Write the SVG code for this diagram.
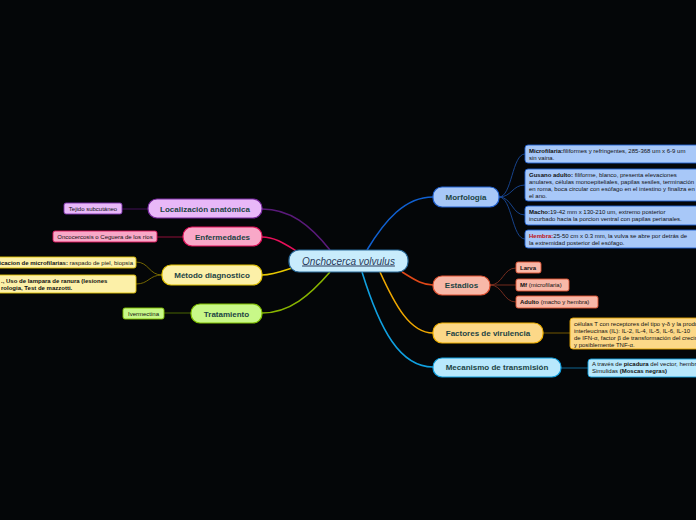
<svg xmlns="http://www.w3.org/2000/svg" width="696" height="520" viewBox="0 0 696 520">
<style>
text{font-family:"Liberation Sans",Arial,sans-serif;}
.main{font-size:8px;font-weight:bold;fill:#1c4444;text-anchor:middle;}
.sub{font-size:6px;fill:#111;}
.b{font-weight:bold;}
.c{fill:none;stroke-width:1.6;}
.cs{fill:none;stroke-width:0.9;}
</style>
<rect width="696" height="520" fill="#040608"/>
<g id="connectors">
<path class="c" stroke="#5a1a7a" d="M330,250 C310,225 290,209 262,209"/>
<path class="c" stroke="#e8105a" d="M298,252 C285,244 275,237 262,237"/>
<path class="c" stroke="#e8c800" d="M292,268 C280,272 272,275 262,275"/>
<path class="c" stroke="#88b400" d="M330,272 C310,295 290,313 262,313"/>
<path class="c" stroke="#1060d0" d="M367,250 C385,220 405,197 433,197"/>
<path class="c" stroke="#e04818" d="M402,272 C415,280 422,285 433,285"/>
<path class="c" stroke="#f0a800" d="M380,272 C395,305 410,333 433,333"/>
<path class="c" stroke="#10a0e0" d="M362,272 C380,330 400,367 433,367"/>
<path class="cs" stroke="#1a4a9a" d="M499,197 C512,197 512,154 525,154 M499,197 C512,197 512,185 525,185 M499,197 C512,197 512,215 525,215 M499,197 C512,197 512,239 525,239"/>
<path class="cs" stroke="#803020" d="M490,285 C503,285 503,268 516,268 M490,285 L516,285 M490,285 C503,285 503,302 516,302"/>
<path class="cs" stroke="#806000" d="M543,333 L570,333"/>
<path class="cs" stroke="#1070a0" d="M561,368 L588,368"/>
<path class="cs" stroke="#4a1060" d="M148,209 L122,209"/>
<path class="cs" stroke="#a01040" d="M183,237 L157,237"/>
<path class="cs" stroke="#807000" d="M162,275 C149,275 149,262 136,262 M162,275 C149,275 149,284 136,284"/>
<path class="cs" stroke="#507000" d="M191,313 L164,313"/>
</g>
<g id="root">
<rect x="289" y="250" width="119" height="22" rx="10" fill="#c8ecfc" stroke="#2a6a9a" stroke-width="1.2"/>
<text x="348.5" y="264.5" font-size="10" font-style="italic" fill="#2a3a5a" text-anchor="middle" text-decoration="underline">Onchocerca volvulus</text>
</g>
<g id="morfologia">
<rect x="433" y="187" width="66" height="20" rx="9" fill="#a8c8f8" stroke="#2060d0" stroke-width="1.2"/>
<text class="main" x="466" y="199.8">Morfología</text>
</g>
<g id="microfilaria">
<rect x="525" y="145" width="200" height="18" rx="3" fill="#a8c8f8" stroke="#2060d0" stroke-width="0.9"/>
<text class="sub" x="529" y="153"><tspan class="b">Microfilaria:</tspan>filiformes y refringentes, 285-368 um x 6-9 um</text>
<text class="sub" x="529" y="160">sin vaina.</text>
</g>
<g id="gusano">
<rect x="525" y="169" width="200" height="32" rx="3" fill="#a8c8f8" stroke="#2060d0" stroke-width="0.9"/>
<text class="sub" x="529" y="177"><tspan class="b">Gusano adulto:</tspan> filiforme, blanco, presenta elevaciones</text>
<text class="sub" x="529" y="184">anulares, células monoepiteliales, papilas sesiles, terminación</text>
<text class="sub" x="529" y="191">en roma, boca circular con esófago en el intestino y finaliza en</text>
<text class="sub" x="529" y="198">el ano.</text>
</g>
<g id="macho">
<rect x="525" y="206" width="200" height="19" rx="3" fill="#a8c8f8" stroke="#2060d0" stroke-width="0.9"/>
<text class="sub" x="529" y="214"><tspan class="b">Macho:</tspan>19-42 mm x 130-210 um, extremo posterior</text>
<text class="sub" x="529" y="221">incurbado hacia la porcion ventral con papilas perianales.</text>
</g>
<g id="hembra">
<rect x="525" y="230" width="200" height="18" rx="3" fill="#a8c8f8" stroke="#2060d0" stroke-width="0.9"/>
<text class="sub" x="529" y="238"><tspan class="b" fill="#c01010">Hembra:</tspan>25-50 cm x 0.3 mm, la vulva se abre  por detrás de</text>
<text class="sub" x="529" y="245">la extremidad posterior del esófago.</text>
</g>
<g id="estadios">
<rect x="433" y="276" width="57" height="19" rx="9" fill="#f8b8a8" stroke="#e05030" stroke-width="1.2"/>
<text class="main" x="461.5" y="288.3">Estadios</text>
</g>
<g id="larva">
<rect x="516" y="262" width="25" height="11" rx="2" fill="#f8b8a8" stroke="#e05030" stroke-width="0.9"/>
<text class="sub b" x="520" y="270">Larva</text>
</g>
<g id="mf">
<rect x="516" y="279" width="53" height="12" rx="2" fill="#f8b8a8" stroke="#e05030" stroke-width="0.9"/>
<text class="sub" x="520" y="287.2"><tspan class="b">Mf</tspan> (microfilaria)</text>
</g>
<g id="adulto">
<rect x="516" y="296" width="82" height="12" rx="2" fill="#f8b8a8" stroke="#e05030" stroke-width="0.9"/>
<text class="sub" x="520" y="304.2"><tspan class="b">Adulto</tspan> (macho y hembra)</text>
</g>
<g id="factores">
<rect x="433" y="323" width="110" height="20" rx="9" fill="#fcd888" stroke="#f0b000" stroke-width="1.2"/>
<text class="main" x="488" y="335.8">Factores de virulencia</text>
</g>
<g id="factores-texto">
<rect x="570" y="318" width="200" height="31" rx="3" fill="#fcd888" stroke="#e0a000" stroke-width="0.9"/>
<text class="sub" x="574" y="326">células T con receptores del tipo γ-δ y la producción</text>
<text class="sub" x="574" y="333">interleucinas (IL): IL-2, IL-4, IL-5, IL-6, IL-10</text>
<text class="sub" x="574" y="340">de IFN-α, factor β de transformación del crecimiento</text>
<text class="sub" x="574" y="347">y posiblemente TNF-α.</text>
</g>
<g id="mecanismo">
<rect x="433" y="358" width="128" height="19" rx="9" fill="#b8e8fc" stroke="#10a0e0" stroke-width="1.2"/>
<text class="main" x="497" y="370.3">Mecanismo de transmisión</text>
</g>
<g id="mecanismo-texto">
<rect x="588" y="359" width="200" height="18" rx="3" fill="#b8e8fc" stroke="#10a0e0" stroke-width="0.9"/>
<text class="sub" x="592" y="366">A través de <tspan class="b">picadura</tspan> del vector, hembras</text>
<text class="sub" x="592" y="373">Simulidas <tspan class="b">(Moscas negras)</tspan></text>
</g>
<g id="localizacion">
<rect x="148" y="199" width="114" height="19" rx="9" fill="#e8b8f8" stroke="#7a2aa0" stroke-width="1.2"/>
<text class="main" x="205" y="211.8">Localización anatómica</text>
</g>
<g id="tejido">
<rect x="64" y="203" width="58" height="11" rx="2" fill="#e8b8f8" stroke="#8030b0" stroke-width="0.9"/>
<text class="sub" x="93" y="210.7" text-anchor="middle">Tejido subcutáneo</text>
</g>
<g id="enfermedades">
<rect x="183" y="227" width="79" height="19" rx="9" fill="#f8a8c8" stroke="#e0105a" stroke-width="1.2"/>
<text class="main" x="222.5" y="239.8">Enfermedades</text>
</g>
<g id="oncocercosis">
<rect x="53" y="231" width="104" height="11" rx="2" fill="#f8a8c8" stroke="#e0105a" stroke-width="0.9"/>
<text class="sub" x="105" y="238.7" text-anchor="middle">Oncocercosis o Ceguera de los ríos</text>
</g>
<g id="metodo">
<rect x="162" y="265" width="100" height="20" rx="9" fill="#fcf0a8" stroke="#e0c000" stroke-width="1.2"/>
<text class="main" x="212" y="277.8">Método diagnostico</text>
</g>
<g id="identificacion">
<rect x="-60" y="257" width="196" height="11" rx="2" fill="#fcf0a8" stroke="#e0c000" stroke-width="0.9"/>
<text class="sub" x="133" y="264.7" text-anchor="end"><tspan class="b">Identificacion de microfilarias:</tspan> raspado de piel, biopsia</text>
</g>
<g id="otros">
<rect x="-60" y="275" width="196" height="18" rx="2" fill="#fcf0a8" stroke="#e0c000" stroke-width="0.9"/>
<text class="sub b" x="1" y="283">., Uso de lampara de ranura (lesiones</text>
<text class="sub b" x="1" y="290">rologia, Test de mazzotti.</text>
</g>
<g id="tratamiento">
<rect x="191" y="304" width="71" height="19" rx="9" fill="#c8f888" stroke="#80c000" stroke-width="1.2"/>
<text class="main" x="226.5" y="316.8">Tratamiento</text>
</g>
<g id="ivermectina">
<rect x="123" y="308" width="41" height="11" rx="2" fill="#c8f888" stroke="#80c000" stroke-width="0.9"/>
<text class="sub" x="143.5" y="315.7" text-anchor="middle">Ivermectina</text>
</g>
</svg>
